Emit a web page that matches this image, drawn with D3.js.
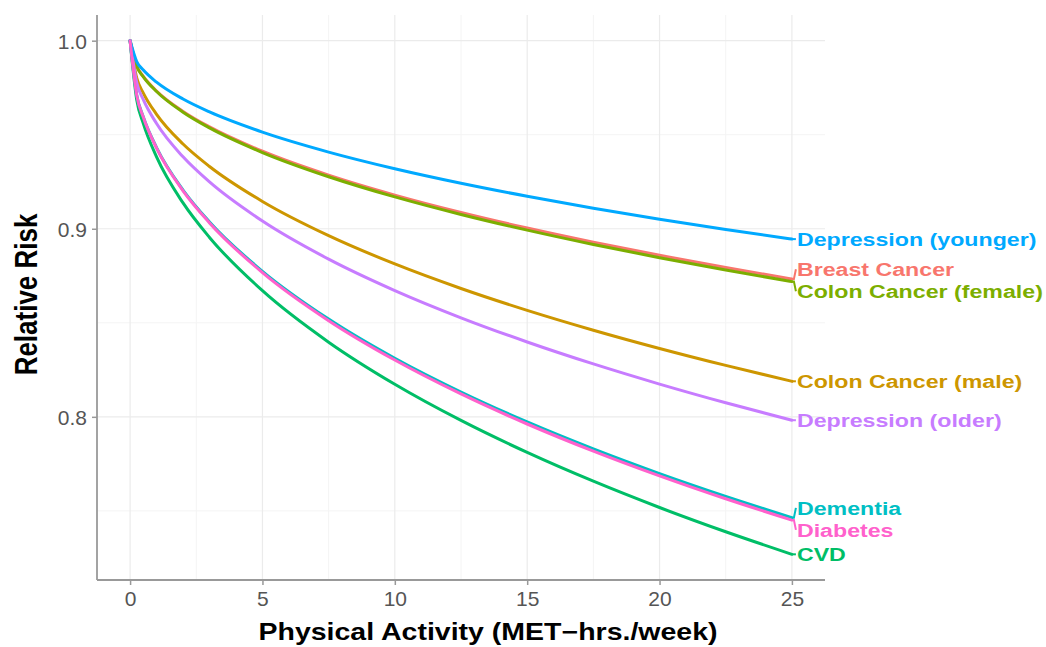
<!DOCTYPE html>
<html>
<head>
<meta charset="utf-8">
<script src="https://cdn.jsdelivr.net/npm/d3@7"></script>
<style>
  html, body { margin: 0; padding: 0; background: #fff; }
  svg { display: block; }
</style>
</head>
<body>
<svg id="chart" width="1046" height="647"></svg>
<script>
// ---- data ----
const activity = [0, 0.25, 0.5, 1, 2, 3, 5, 7.5, 10, 12.5, 15, 17.5, 20, 22.5, 25];

const breastCancer        = [1, 0.98654, 0.98102, 0.97327, 0.96241, 0.95415, 0.94121, 0.92848, 0.91788, 0.90865, 0.90038, 0.89284, 0.88588, 0.87939, 0.8733];
const colonCancerFemale   = [1, 0.98639, 0.98080, 0.97296, 0.96197, 0.95362, 0.94054, 0.92767, 0.91695, 0.90762, 0.89926, 0.89164, 0.88462, 0.87806, 0.8719];
const colonCancerMale     = [1, 0.98022, 0.97214, 0.96083, 0.94506, 0.93313, 0.91453, 0.89635, 0.88130, 0.86825, 0.85662, 0.84607, 0.83636, 0.82734, 0.8189];
const cvd                 = [1, 0.96861, 0.95589, 0.93820, 0.91373, 0.89539, 0.86706, 0.83970, 0.81731, 0.79808, 0.78108, 0.76577, 0.75179, 0.73889, 0.7269];
const dementia            = [1, 0.97117, 0.95948, 0.94318, 0.92060, 0.90364, 0.87739, 0.85197, 0.83111, 0.81317, 0.79727, 0.78293, 0.76981, 0.75769, 0.7464];
const depressionOlder     = [1, 0.97771, 0.96863, 0.95592, 0.93824, 0.92489, 0.90411, 0.88386, 0.86714, 0.85267, 0.83980, 0.82813, 0.81742, 0.80748, 0.7982];
const depressionYounger   = [1, 0.98891, 0.98436, 0.97795, 0.96896, 0.96211, 0.95136, 0.94076, 0.93191, 0.92419, 0.91726, 0.91094, 0.90509, 0.89963, 0.8945];
const diabetes            = [1, 0.97100, 0.95924, 0.94285, 0.92015, 0.90309, 0.87670, 0.85115, 0.83020, 0.81216, 0.79619, 0.78178, 0.76861, 0.75643, 0.7451];

const seriesNames  = ["Breast Cancer", "Colon Cancer (female)", "Colon Cancer (male)", "CVD", "Dementia", "Depression (older)", "Depression (younger)", "Diabetes"];
const seriesValues = [breastCancer, colonCancerFemale, colonCancerMale, cvd, dementia, depressionOlder, depressionYounger, diabetes];
const seriesColors = ["#F8766D", "#7CAE00", "#CD9600", "#00BE67", "#00BFC4", "#C77CFF", "#00A9FF", "#FF61CC"];

const xTickValues = [0, 5, 10, 15, 20, 25];
const xTickLabels = ["0", "5", "10", "15", "20", "25"];
const yTickValues = [0.8, 0.9, 1.0];
const yTickLabels = ["0.8", "0.9", "1.0"];
const xMinorGrid  = [2.5, 7.5, 12.5, 17.5, 22.5];
const yMinorGrid  = [0.75, 0.85, 0.95];

const xTitle = "Physical Activity (MET\u2212hrs./week)";
const yTitle = "Relative Risk";

// ---- layout ----
const panel = { left: 97, right: 825, top: 15, bottom: 580 };
const svg = d3.select("#chart");

const xExtent = [0, 25];
const xPad = (xExtent[1] - xExtent[0]) * 0.05;
const allVals = seriesValues.flat();
const yExtent = [d3.min(allVals), d3.max(allVals)];
const yPad = (yExtent[1] - yExtent[0]) * 0.05;

const x = d3.scaleLinear().domain([xExtent[0] - xPad, xExtent[1] + xPad]).range([panel.left, panel.right]);
const y = d3.scaleLinear().domain([yExtent[0] - yPad, yExtent[1] + yPad]).range([panel.bottom, panel.top]);

// grid
const grid = svg.append("g");
grid.selectAll(".gxm").data(xMinorGrid).join("line")
  .attr("x1", d => x(d)).attr("x2", d => x(d)).attr("y1", panel.top).attr("y2", panel.bottom)
  .attr("stroke", "#f4f4f4").attr("stroke-width", 1);
grid.selectAll(".gym").data(yMinorGrid).join("line")
  .attr("y1", d => y(d)).attr("y2", d => y(d)).attr("x1", panel.left).attr("x2", panel.right)
  .attr("stroke", "#f4f4f4").attr("stroke-width", 1);
grid.selectAll(".gx").data(xTickValues).join("line")
  .attr("x1", d => x(d)).attr("x2", d => x(d)).attr("y1", panel.top).attr("y2", panel.bottom)
  .attr("stroke", "#ebebeb").attr("stroke-width", 1.2);
grid.selectAll(".gy").data(yTickValues).join("line")
  .attr("y1", d => y(d)).attr("y2", d => y(d)).attr("x1", panel.left).attr("x2", panel.right)
  .attr("stroke", "#ebebeb").attr("stroke-width", 1.2);

// axes
const xAxis = d3.axisBottom(x).tickValues(xTickValues).tickFormat((d, i) => xTickLabels[i]).tickSize(5).tickPadding(6);
const yAxis = d3.axisLeft(y).tickValues(yTickValues).tickFormat((d, i) => yTickLabels[i]).tickSize(5).tickPadding(5);

const gx = svg.append("g").attr("transform", `translate(0,${panel.bottom})`).call(xAxis);
const gy = svg.append("g").attr("transform", `translate(${panel.left},0)`).call(yAxis);
[gx, gy].forEach(g => {
  g.select(".domain").remove();
  g.selectAll(".tick line").attr("stroke", "#999").attr("stroke-width", 1.5);
  g.selectAll(".tick text").attr("fill", "#555").attr("font-family", "Liberation Sans, Arial, sans-serif").attr("font-size", 21);
});
gy.selectAll(".tick text").attr("dy", "0.36em");
// axis lines
svg.append("line").attr("x1", panel.left).attr("x2", panel.left).attr("y1", panel.top).attr("y2", panel.bottom)
  .attr("stroke", "#999").attr("stroke-width", 1.8);
svg.append("line").attr("x1", panel.left).attr("x2", panel.right).attr("y1", panel.bottom).attr("y2", panel.bottom)
  .attr("stroke", "#999").attr("stroke-width", 1.8);

// lines
const line = d3.line().x(d => x(d[0])).y(d => y(d[1])).curve(d3.curveMonotoneX);
const series = seriesNames.map((name, i) => ({
  name, color: seriesColors[i],
  points: activity.map((a, j) => [a, seriesValues[i][j]])
}));
svg.append("g").selectAll("path").data(series).join("path")
  .attr("d", d => line(d.points))
  .attr("fill", "none").attr("stroke", d => d.color).attr("stroke-width", 3)
  .attr("stroke-linejoin", "round").attr("stroke-linecap", "round");

// labels with simple vertical repel
const labelFont = 19, labelStretch = 1.22, minGap = 22;
const labels = series.map(s => ({ ...s, yEnd: y(s.points[s.points.length - 1][1]) }))
  .sort((a, b) => a.yEnd - b.yEnd);
labels.forEach(l => l.ly = l.yEnd);
for (let iter = 0; iter < 200; iter++) {
  let moved = false;
  for (let i = 1; i < labels.length; i++) {
    const gap = labels[i].ly - labels[i - 1].ly;
    if (gap < minGap) {
      const push = (minGap - gap) / 2;
      labels[i - 1].ly -= push; labels[i].ly += push; moved = true;
    }
  }
  if (!moved) break;
}
const xEnd = x(25);
const labelX = xEnd + 5;
const lg = svg.append("g");
lg.selectAll("path").data(labels).join("path")
  .attr("d", d => `M${xEnd},${d.yEnd} L${xEnd + 2},${d.yEnd} L${labelX - 1},${d.ly}`)
  .attr("fill", "none")
  .attr("stroke", d => d.color).attr("stroke-width", 2);
lg.selectAll("text").data(labels).join("text")
  .attr("transform", d => `translate(${labelX},${d.ly}) scale(${labelStretch},1)`)
  .attr("dy", "0.36em")
  .attr("fill", d => d.color)
  .attr("font-family", "Liberation Sans, Arial, sans-serif")
  .attr("font-weight", "bold")
  .attr("font-size", labelFont)
  .text(d => d.name);

// axis titles
svg.append("text")
  .attr("transform", `translate(488,640) scale(1.24,1)`)
  .attr("text-anchor", "middle")
  .attr("font-family", "Liberation Sans, Arial, sans-serif").attr("font-weight", "bold").attr("font-size", 23)
  .attr("fill", "#000").text(xTitle);
svg.append("text")
  .attr("transform", `translate(37,${(panel.top + panel.bottom) / 2 - 3}) scale(1.24,1) rotate(-90)`)
  .attr("text-anchor", "middle")
  .attr("font-family", "Liberation Sans, Arial, sans-serif").attr("font-weight", "bold").attr("font-size", 26)
  .attr("fill", "#000").text(yTitle);
</script>
</body>
</html>
